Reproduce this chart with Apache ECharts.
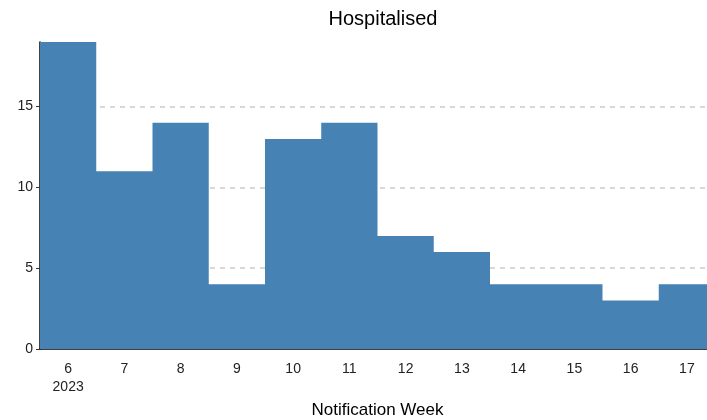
<!DOCTYPE html>
<html>
<head>
<meta charset="utf-8">
<script src="https://cdn.jsdelivr.net/npm/echarts@6/dist/echarts.min.js"></script>
<style>html,body{margin:0;padding:0;background:#fff}#c{width:707px;height:420px}</style>
</head>
<body>
<div id="c"></div>
<script>
const weeks = ['6','7','8','9','10','11','12','13','14','15','16','17'];
const hospitalised = [19, 11, 14, 4, 13, 14, 7, 6, 4, 4, 3, 4];
const yTicks = [0, 5, 10, 15];
const yearLabel = '2023';

const chart = echarts.init(document.getElementById('c'));
chart.setOption({
  animation: false,
  title: {
    text: 'Hospitalised',
    left: 378, top: 4, textAlign: 'center',
    textStyle: {fontFamily: 'Liberation Sans', fontSize: 20, fontWeight: 'normal', color: '#000'}
  },
  grid: {left: 40, top: 42, width: 675, height: 307, containLabel: false, outerBoundsMode: 'none'},
  xAxis: {
    type: 'category', data: weeks,
    name: 'Notification Week', nameLocation: 'middle', nameGap: 53,
    nameTextStyle: {fontFamily: 'Liberation Sans', fontSize: 17, color: '#000'},
    axisLine: {lineStyle: {color: '#000', width: 1.5}},
    axisTick: {alignWithLabel: true, length: 4, lineStyle: {color: '#333'}},
    axisLabel: {
      fontFamily: 'Liberation Sans', fontSize: 14, color: '#222', margin: 11, lineHeight: 18,
      formatter: (v, i) => i === 0 ? v + '\n' + yearLabel : v
    },
    splitLine: {show: false}
  },
  yAxis: {
    type: 'value', min: 0, max: 19, interval: 5,
    axisLine: {show: true, lineStyle: {color: '#000', width: 1.5}},
    axisTick: {show: true, length: 4, lineStyle: {color: '#333'}, customValues: yTicks},
    axisLabel: {
      fontFamily: 'Liberation Sans', fontSize: 14, color: '#222', margin: 7,
      customValues: yTicks
    },
    splitLine: {show: true, showMinLine: false, showMaxLine: true, lineStyle: {color: '#cccccc', type: [5, 5], width: 1.5}},
    z: 0
  },
  series: [{
    type: 'bar', data: hospitalised, barCategoryGap: 0, barGap: 0,
    large: true, largeThreshold: 1,
    itemStyle: {color: '#4682B4'}, z: 2
  }]
});
</script>
</body>
</html>
